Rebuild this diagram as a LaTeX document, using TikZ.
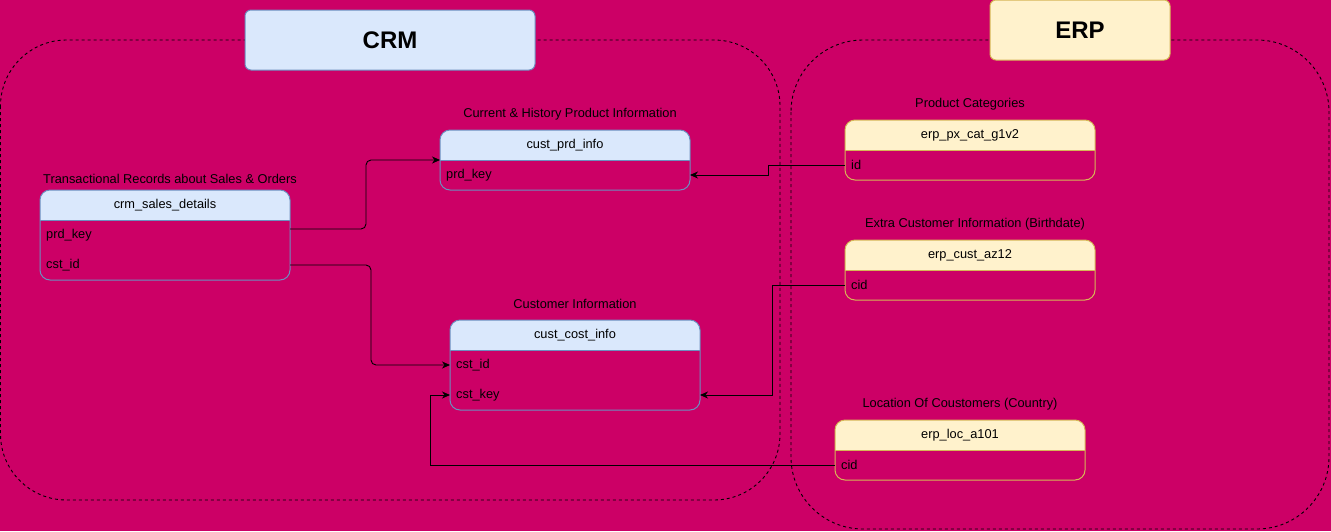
\documentclass[tikz,border=0pt]{standalone}
\usepackage{fontspec}
\setmainfont{Liberation Sans}
\usetikzlibrary{arrows.meta,calc}
\definecolor{bgc}{HTML}{CC0066}
\definecolor{bluef}{HTML}{DAE8FC}
\definecolor{blues}{HTML}{6C8EBF}
\definecolor{yelf}{HTML}{FFF2CC}
\definecolor{yels}{HTML}{D6B656}
\tikzset{
  container/.style={draw=black, line width=0.9pt, dash pattern=on 3pt off 3pt},
  titlebox/.style={rounded corners=6pt, line width=1pt, inner sep=0pt, outer sep=0pt,
     font=\fontsize{24}{28}\selectfont\bfseries},
  tblbox/.style={rectangle, rounded corners=10pt, line width=1pt, minimum width=250pt,
     inner sep=0pt, outer sep=0pt},
  hdrtext/.style={font=\fontsize{12.8}{15}\selectfont, inner sep=0pt},
  rowtext/.style={font=\fontsize{12.8}{15}\selectfont, inner sep=0pt, anchor=west},
  lbl/.style={font=\fontsize{12.8}{15}\selectfont, inner sep=0pt},
  conn/.style={draw=black, line width=0.9pt, -{Stealth[length=8pt,width=7pt,inset=2.5pt]}},
}
\newcommand{\dbtable}[7]{%
  \node[tblbox, minimum height=#4] (#1) at (#2+125, #3+#4/2) {};
  \begin{scope}
    \clip[rounded corners=10pt] (#1.south west) rectangle (#1.north east);
    \fill[#5] (#1.north west) rectangle ($(#1.north east)+(0,-30pt)$);
  \end{scope}
  \draw[#6, line width=1pt] ($(#1.north west)+(0,-30pt)$) -- ($(#1.north east)+(0,-30pt)$);
  \draw[#6, line width=1pt, rounded corners=10pt] (#1.south west) rectangle (#1.north east);
  \node[hdrtext] (#1-h) at ($(#1.north)+(0,-15pt)$) {#7};
}
\begin{document}
\begin{tikzpicture}[x=1pt, y=-1pt]
\fill[bgc] (0,0) rectangle (1331,531);
\useasboundingbox (0,0) rectangle (1331,531);

% containers
\draw[container, rounded corners=66pt] (0.5,40) rectangle (780,500);
\draw[container, rounded corners=72pt] (791,40) rectangle (1329,529);

% titles
\node[titlebox, fill=bluef, draw=blues, minimum width=290pt, minimum height=60pt] (crm) at (390,40) {CRM};
\node[titlebox, fill=yelf, draw=yels, minimum width=180pt, minimum height=60pt] (erp) at (1080,30) {ERP};

% CRM tables
\dbtable{sales}{40}{190}{90}{bluef}{blues}{crm\_sales\_details}
\node[rowtext] (sales-prd) at ($(sales.north west)+(6pt,-45pt)$) {prd\_key};
\node[rowtext] (sales-cst) at ($(sales.north west)+(6pt,-75pt)$) {cst\_id};
\node[lbl] (sales-lbl) at (170,179) {Transactional Records about Sales \& Orders};

\dbtable{prd}{440}{130}{60}{bluef}{blues}{cust\_prd\_info}
\node[rowtext] (prd-key) at ($(prd.north west)+(6pt,-45pt)$) {prd\_key};
\node[lbl] (prd-lbl) at (570,114.5) {Current \& History Product Information};

\dbtable{cost}{450}{320}{90}{bluef}{blues}{cust\_cost\_info}
\node[rowtext] (cost-id) at ($(cost.north west)+(6pt,-45pt)$) {cst\_id};
\node[rowtext] (cost-key) at ($(cost.north west)+(6pt,-75pt)$) {cst\_key};
\node[lbl] (cost-lbl) at (575,304) {Customer Information};

% ERP tables
\dbtable{pxcat}{845}{120}{60}{yelf}{yels}{erp\_px\_cat\_g1v2}
\node[rowtext] (pxcat-id) at ($(pxcat.north west)+(6pt,-45pt)$) {id};
\node[lbl] (pxcat-lbl) at (970,104.5) {Product Categories};

\dbtable{az}{845}{240}{60}{yelf}{yels}{erp\_cust\_az12}
\node[rowtext] (az-cid) at ($(az.north west)+(6pt,-45pt)$) {cid};
\node[lbl] (az-lbl) at (975,224.5) {Extra Customer Information (Birthdate)};

\dbtable{loc}{835}{420}{60}{yelf}{yels}{erp\_loc\_a101}
\node[rowtext] (loc-cid) at ($(loc.north west)+(6pt,-45pt)$) {cid};
\node[lbl] (loc-lbl) at (960,404) {Location Of Coustomers (Country)};

% connectors
\draw[conn, rounded corners=5pt] ($(sales.north east)+(0,-39pt)$) -| (366,160) -- ($(prd.north west)+(0,-30pt)$);
\draw[conn, rounded corners=5pt] (sales.east |- sales-cst) -| (371,365) -- (cost.west |- cost-id);
\draw[conn] (pxcat.west |- pxcat-id) -| (768,175) -- (prd.east |- prd-key);
\draw[conn] (az.west |- az-cid) -| (772,395) -- (cost.east |- cost-key);
\draw[conn] (loc.west |- loc-cid) -| (430,395) -- (cost.west |- cost-key);
\end{tikzpicture}
\end{document}
